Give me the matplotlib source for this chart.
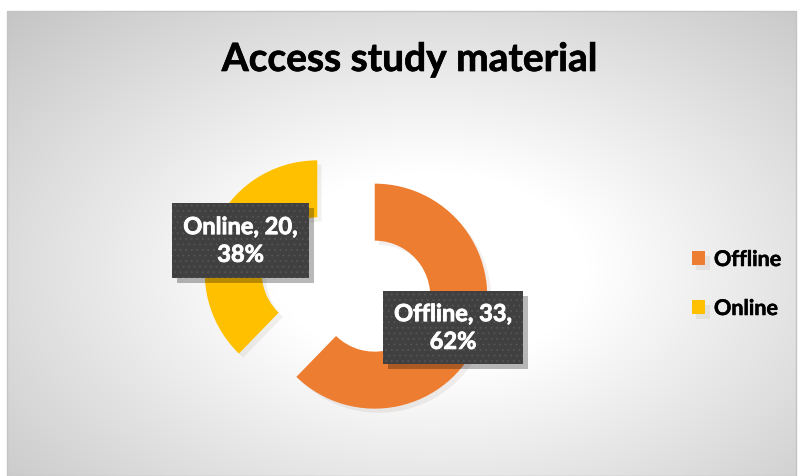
import numpy as np
import matplotlib.pyplot as plt
import matplotlib.patheffects as pe
from matplotlib.patches import Rectangle

# Data
labels = ['Offline', 'Online']
counts = [33, 20]
colors = ['#ED7D31', '#FFC000']

plt.rcParams['font.family'] = ['Lato', 'DejaVu Sans']
plt.rcParams['hatch.linewidth'] = 0.6

W, H = 800, 477
fig = plt.figure(figsize=(W / 100, H / 100), dpi=100)
fig.patch.set_facecolor('white')
ax = fig.add_axes([0, 0, 1, 1])

# chart area with a radial grey gradient
x0, x1, y0, y1 = 7, 796, 0, 465
gx = np.linspace(x0, x1, 400)
gy = np.linspace(y0, y1, 240)
X, Y = np.meshgrid(gx, gy)
cx, cy = 430, H - 270
d = np.sqrt(((X - cx) / 420) ** 2 + ((Y - cy) / 260) ** 2)
shade = 255 - 62 * np.clip((d - 0.38) / 1.1, 0, 1)
img = np.dstack([shade] * 3) / 255
ax.imshow(img, extent=(x0, x1, y0, y1), origin='lower', zorder=0,
          interpolation='bilinear')
ax.add_patch(Rectangle((x0, y0), x1 - x0, y1 - y0, fill=False,
                       edgecolor='#c4c4c4', lw=1, zorder=1))

# exploded doughnut
total = sum(counts)
wedges, _ = ax.pie(counts, colors=colors, startangle=90, counterclock=False,
                   radius=112.5, center=(346, H - 285.5), explode=[31, 31],
                   wedgeprops=dict(width=57, linewidth=0))
for w in wedges:
    w.set_zorder(2)
    w.set_path_effects([pe.SimplePatchShadow(offset=(3, -3), alpha=0.07),
                        pe.Normal()])

# data labels in dark dotted boxes with a drop shadow
box_pos = [(383, H - 365, 140, 73), (172, H - 279, 137, 75)]
for name, v, (bx, by, bw, bh) in zip(labels, counts, box_pos):
    pct = round(100 * v / total)
    ax.add_patch(Rectangle((bx + 5, by - 5), bw, bh, facecolor='black',
                           alpha=0.28, linewidth=0, zorder=4))
    ax.add_patch(Rectangle((bx, by), bw, bh, facecolor='#404040',
                           edgecolor='#555555', linewidth=0, hatch='...',
                           zorder=4.5))
    ax.text(bx + bw / 2, by + bh / 2, f'{name}, {v},\n{pct}%',
            ha='center', va='center', color='white', fontsize=17,
            fontweight='bold', linespacing=1.25, zorder=5,
            path_effects=[pe.withStroke(linewidth=0.6, foreground='white')])

ax.text(409.5, H - 72, 'Access study material', ha='center', va='baseline',
        fontsize=28, fontweight='bold', color='black',
        path_effects=[pe.withStroke(linewidth=0.5, foreground='black')])

leg = ax.legend(wedges, labels, loc='upper left',
                bbox_to_anchor=(692 / W, 1 - 250 / H), frameon=False,
                prop=dict(weight='bold', size=15.5), handlelength=0.62,
                handleheight=0.62, handletextpad=0.4, labelspacing=1.3,
                borderpad=0, borderaxespad=0)
for txt in leg.get_texts():
    txt.set_path_effects([pe.withStroke(linewidth=0.4, foreground='black')])

ax.set_xlim(0, W)
ax.set_ylim(0, H)
ax.set_aspect('auto')
ax.axis('off')

fig.savefig('out.png', dpi=100)
